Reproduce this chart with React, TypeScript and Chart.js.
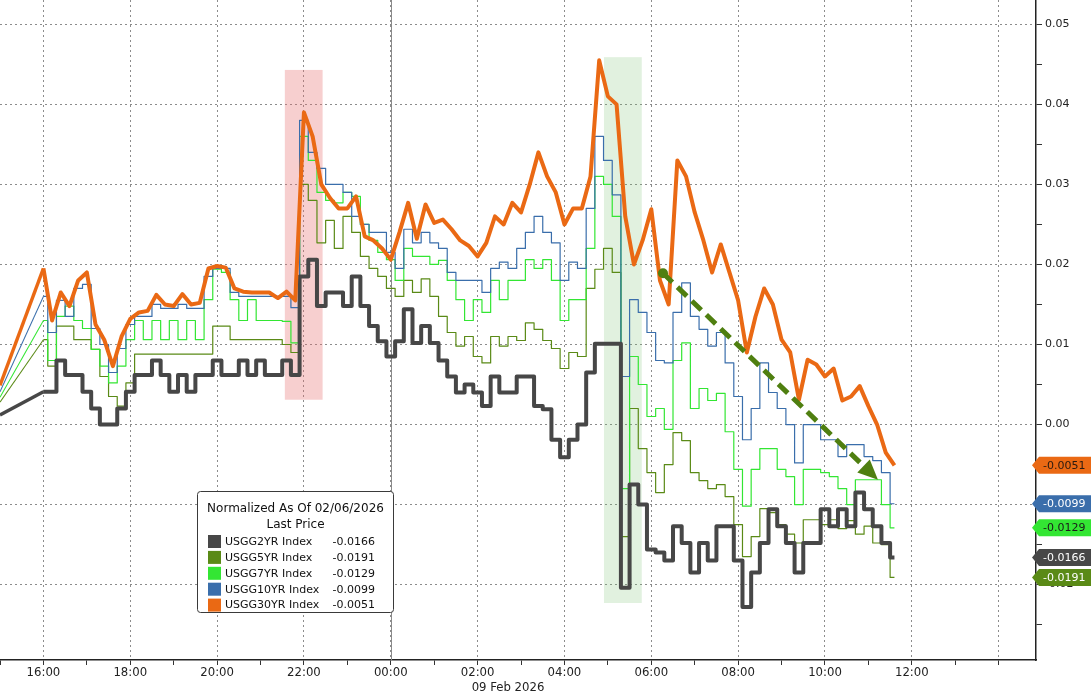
import React, { useEffect, useRef } from "react";
import { Chart, registerables } from "chart.js";

Chart.register(...registerables);

// Hours relative to 00:00 on 09 Feb 2026
const START_HOUR = -9;
const HOURS = [
  -8, -7.8, -7.6, -7.4, -7.2, -7, -6.8, -6.6, -6.4, -6.2,
  -6, -5.8, -5.6, -5.4, -5.2, -5, -4.8, -4.6, -4.4, -4.2,
  -4, -3.8, -3.6, -3.4, -3.2, -3, -2.8, -2.6, -2.4, -2.2,
  -2, -1.8, -1.6, -1.4, -1.2, -1, -0.8, -0.6, -0.4, -0.2,
  0, 0.2, 0.4, 0.6, 0.8, 1, 1.2, 1.4, 1.6, 1.8,
  2, 2.2, 2.4, 2.6, 2.8, 3, 3.2, 3.4, 3.6, 3.8,
  4, 4.2, 4.4, 4.6, 4.8, 5, 5.2, 5.4, 5.6, 5.8,
  6, 6.2, 6.4, 6.6, 6.8, 7, 7.2, 7.4, 7.6, 7.8,
  8, 8.2, 8.4, 8.6, 8.8, 9, 9.2, 9.4, 9.6, 9.8,
  10, 10.2, 10.4, 10.6, 10.8, 11, 11.2, 11.4, 11.6,
];

const USGG2YR = [
  0.0041, 0.0041, 0.008, 0.0062, 0.0062, 0.0041, 0.002, 0.0, 0.0, 0.002,
  0.0041, 0.0062, 0.0062, 0.008, 0.0062, 0.0041, 0.0062, 0.0041, 0.0062, 0.0062,
  0.008, 0.0062, 0.0062, 0.008, 0.0062, 0.008, 0.0062, 0.0062, 0.008, 0.0062,
  0.0185, 0.0206, 0.0148, 0.0165, 0.0165, 0.0148, 0.0185, 0.0148, 0.0123, 0.0104,
  0.0085, 0.0104, 0.0144, 0.0102, 0.0123, 0.0102, 0.008, 0.006, 0.004, 0.005,
  0.004, 0.0023, 0.006, 0.004, 0.004, 0.006, 0.006, 0.0023, 0.0019, -0.0019,
  -0.0041, -0.0019, 0.0, 0.0065, 0.0101, 0.0101, 0.0101, -0.0204, -0.0075, -0.01,
  -0.0156, -0.016, -0.017, -0.0127, -0.0148, -0.0185, -0.0148, -0.017, -0.0127, -0.0127,
  -0.017, -0.0228, -0.0185, -0.0148, -0.0106, -0.0127, -0.0148, -0.0185, -0.0148, -0.0148,
  -0.0106, -0.0127, -0.0106, -0.0127, -0.0085, -0.0106, -0.0127, -0.0148, -0.0166,
];

const USGG5YR = [
  0.0106, 0.0073, 0.0123, 0.0123, 0.0106, 0.0106, 0.0094, 0.006, 0.0035, 0.0023,
  0.0052, 0.0088, 0.0088, 0.0088, 0.0088, 0.0088, 0.0088, 0.0088, 0.0088, 0.0088,
  0.0123, 0.0123, 0.0106, 0.0106, 0.0106, 0.0106, 0.0106, 0.0106, 0.01, 0.009,
  0.03, 0.028, 0.0227, 0.0255, 0.022, 0.026, 0.024, 0.021, 0.0195, 0.0185,
  0.017, 0.016, 0.018, 0.0165, 0.0182, 0.016, 0.0135, 0.0115, 0.0098, 0.011,
  0.0085, 0.0077, 0.011, 0.0098, 0.011, 0.0105, 0.0127, 0.0119, 0.0105, 0.0095,
  0.007, 0.009, 0.0085, 0.017, 0.0194, 0.022, 0.019, -0.014, 0.002, -0.003,
  -0.006, -0.0085, -0.005, -0.001, -0.002, -0.006, -0.007, -0.008, -0.0075, -0.009,
  -0.0125, -0.0165, -0.014, -0.0105, -0.011, -0.0125, -0.0137, -0.0148, -0.0119, -0.0119,
  -0.0125, -0.0119, -0.013, -0.012, -0.0137, -0.0127, -0.0148, -0.015, -0.0191,
];

const USGG7YR = [
  0.013, 0.008, 0.0135, 0.0148, 0.013, 0.012, 0.0094, 0.0073, 0.0052, 0.0073,
  0.0106, 0.013, 0.0106, 0.013, 0.0106, 0.013, 0.0106, 0.013, 0.0106, 0.0156,
  0.0194, 0.019, 0.0156, 0.013, 0.0156, 0.013, 0.013, 0.013, 0.0129, 0.0102,
  0.036, 0.033, 0.029, 0.028, 0.0277, 0.029, 0.0285, 0.025, 0.023, 0.0215,
  0.0206, 0.018, 0.022, 0.021, 0.021, 0.02, 0.0205, 0.018, 0.0156, 0.013,
  0.0156, 0.014, 0.018, 0.0156, 0.018, 0.018, 0.0206, 0.0195, 0.0206, 0.018,
  0.013, 0.0156, 0.0156, 0.022, 0.031, 0.03, 0.026, -0.008, 0.0085, 0.005,
  0.001, 0.002, -0.0006, 0.008, 0.0102, 0.002, 0.0045, 0.003, 0.0039, -0.0009,
  -0.0056, -0.0102, -0.0056, -0.003, -0.003, -0.0056, -0.0065, -0.01, -0.0056, -0.0056,
  -0.006, -0.0065, -0.008, -0.01, -0.0069, -0.0069, -0.0069, -0.01, -0.0129,
];

const USGG10YR = [
  0.016, 0.0115, 0.0155, 0.0135, 0.017, 0.0175, 0.012, 0.01, 0.0065, 0.0095,
  0.0125, 0.0135, 0.0135, 0.015, 0.0145, 0.0145, 0.015, 0.0145, 0.0145, 0.0185,
  0.0195, 0.0195, 0.0165, 0.016, 0.016, 0.016, 0.016, 0.016, 0.016, 0.0146,
  0.038, 0.034, 0.032, 0.03, 0.03, 0.029, 0.026, 0.025, 0.024, 0.024,
  0.0215, 0.0195, 0.0244, 0.0227, 0.024, 0.0227, 0.022, 0.019, 0.018, 0.018,
  0.018, 0.0165, 0.0195, 0.0203, 0.0195, 0.022, 0.024, 0.026, 0.024, 0.0227,
  0.018, 0.0203, 0.0195, 0.027, 0.036, 0.033, 0.0287, 0.006, 0.0156, 0.014,
  0.0115, 0.008, 0.0077, 0.014, 0.0177, 0.0135, 0.0119, 0.0098, 0.0115, 0.0077,
  0.0035, -0.0019, 0.002, 0.0077, 0.004, 0.002, 0.0, -0.0048, 0.0, 0.0,
  -0.0019, -0.0019, -0.004, -0.0025, -0.0025, -0.004, -0.0045, -0.006, -0.0099,
];

const USGG30YR = [
  0.0195, 0.013, 0.0165, 0.0148, 0.018, 0.019, 0.0125, 0.0106, 0.0073, 0.011,
  0.0132, 0.014, 0.0142, 0.0162, 0.015, 0.0148, 0.0163, 0.015, 0.0152, 0.0195,
  0.0198, 0.0196, 0.017, 0.0166, 0.0165, 0.0165, 0.0165, 0.0158, 0.0166, 0.0155,
  0.039, 0.036, 0.03, 0.0283, 0.027, 0.027, 0.0285, 0.0235, 0.023, 0.022,
  0.0206, 0.024, 0.0277, 0.0232, 0.0275, 0.0252, 0.0256, 0.0244, 0.023, 0.0223,
  0.021, 0.0227, 0.026, 0.025, 0.0277, 0.0265, 0.03, 0.034, 0.031, 0.029,
  0.025, 0.027, 0.027, 0.031, 0.0455, 0.041, 0.04, 0.026, 0.02, 0.023,
  0.0269, 0.018, 0.015, 0.033, 0.031, 0.0265, 0.023, 0.019, 0.0225, 0.019,
  0.0155, 0.009, 0.0135, 0.017, 0.015, 0.0106, 0.009, 0.0031, 0.0081, 0.0075,
  0.006, 0.007, 0.003, 0.0035, 0.0048, 0.0023, 0.0, -0.0035, -0.0051,
];

// value of each series at the first (Friday) point
const LEAD_START = [0.0012, 0.0028, 0.0034, 0.0041, 0.0049];

const SERIES_NAMES = ["USGG2YR Index", "USGG5YR Index", "USGG7YR Index", "USGG10YR Index", "USGG30YR Index"];
const SERIES_VALUES = [USGG2YR, USGG5YR, USGG7YR, USGG10YR, USGG30YR];
const SERIES_COLORS = ["#474747", "#5a8a16", "#33e633", "#3a6eab", "#ea6914"];
const LABEL_TEXT_COLORS = ["#ffffff", "#ffffff", "#1a1a1a", "#ffffff", "#2a1a10"];
const LINE_WIDTHS = [4, 1.2, 1.2, 1.2, 4];
const STEP_MODE: any[] = ["middle", "middle", "middle", "middle", false];
const DRAW_ORDER = [1, 4, 3, 2, 0];

const X_MIN = -9;
const X_MAX = 14.86;
const Y_MIN = -0.02942;
const Y_MAX = 0.05304;

const SHADES = [
  { from: -2.44, to: -1.57, top: 0.0443, bottom: 0.0031, color: "rgba(230,110,110,0.33)" },
  { from: 4.91, to: 5.78, top: 0.0459, bottom: -0.0223, color: "rgba(120,190,110,0.22)" },
];
const TREND_ARROW = { x1: 6.27, y1: 0.0189, x2: 11.22, y2: -0.0069 };

const LEGEND_TITLE = "Normalized As Of 02/06/2026";
const LEGEND_SUBTITLE = "Last Price";
const DATE_LABEL = "09 Feb 2026";

const NARROW = "'Liberation Sans Narrow', 'DejaVu Sans Condensed', 'Liberation Sans', sans-serif";
const UI = "'DejaVu Sans', Verdana, sans-serif";

const overlayPlugin = {
  id: "overlay",
  beforeDatasetsDraw(chart: any) {
    const { ctx, chartArea, scales } = chart;
    const x = scales.x, y = scales.y;
    ctx.save();
    for (const r of SHADES) {
      const x1 = x.getPixelForValue(r.from), x2 = x.getPixelForValue(r.to);
      const y1 = y.getPixelForValue(r.top), y2 = y.getPixelForValue(r.bottom);
      ctx.fillStyle = r.color;
      ctx.fillRect(x1, y1, x2 - x1, y2 - y1);
    }
    const mx = Math.round(x.getPixelForValue(0)) + 0.5;
    ctx.strokeStyle = "#8a8a8a";
    ctx.lineWidth = 1;
    ctx.setLineDash([]);
    ctx.beginPath();
    ctx.moveTo(mx, chartArea.top);
    ctx.lineTo(mx, chartArea.bottom);
    ctx.stroke();
    ctx.restore();
  },
  afterDatasetsDraw(chart: any) {
    const { ctx, scales } = chart;
    const x = scales.x, y = scales.y;
    const p1x = x.getPixelForValue(TREND_ARROW.x1), p1y = y.getPixelForValue(TREND_ARROW.y1);
    const p2x = x.getPixelForValue(TREND_ARROW.x2), p2y = y.getPixelForValue(TREND_ARROW.y2);
    const dx = p2x - p1x, dy = p2y - p1y;
    const len = Math.hypot(dx, dy);
    const ux = dx / len, uy = dy / len;
    const headLen = 20, headHalf = 9;
    const col = "#4f7f10";
    ctx.save();
    ctx.strokeStyle = col;
    ctx.fillStyle = col;
    ctx.lineWidth = 5;
    ctx.setLineDash([13, 7]);
    ctx.beginPath();
    ctx.moveTo(p1x, p1y);
    ctx.lineTo(p2x - ux * headLen, p2y - uy * headLen);
    ctx.stroke();
    ctx.setLineDash([]);
    ctx.beginPath();
    ctx.arc(p1x, p1y, 5, 0, Math.PI * 2);
    ctx.fill();
    const bx = p2x - ux * headLen, by = p2y - uy * headLen;
    ctx.beginPath();
    ctx.moveTo(p2x, p2y);
    ctx.lineTo(bx - uy * headHalf, by + ux * headHalf);
    ctx.lineTo(bx + uy * headHalf, by - ux * headHalf);
    ctx.closePath();
    ctx.fill();
    ctx.restore();
  },
  afterDraw(chart: any) {
    const { ctx, chartArea, scales } = chart;
    const y = scales.y;
    ctx.save();
    // last value tags on the right axis
    const right = chart.width;
    SERIES_VALUES.forEach((vals, i) => {
      const v = vals[vals.length - 1];
      const py = y.getPixelForValue(v);
      const tip = chartArea.right - 4;
      const bl = chartArea.right + 3;
      const h = 8.5;
      ctx.fillStyle = SERIES_COLORS[i];
      ctx.beginPath();
      ctx.moveTo(tip, py);
      ctx.lineTo(bl, py - h);
      ctx.lineTo(right, py - h);
      ctx.lineTo(right, py + h);
      ctx.lineTo(bl, py + h);
      ctx.closePath();
      ctx.fill();
      ctx.fillStyle = LABEL_TEXT_COLORS[i];
      ctx.font = `11px ${UI}`;
      ctx.textAlign = "left";
      ctx.textBaseline = "middle";
      ctx.fillText(v.toFixed(4), bl + 4, py + 0.5);
    });

    // legend box
    const lx = 197.5, ly = 491.5, lw = 196, lh = 121;
    ctx.fillStyle = "#ffffff";
    ctx.strokeStyle = "#3a3a3a";
    ctx.lineWidth = 1;
    ctx.beginPath();
    (ctx as any).roundRect ? (ctx as any).roundRect(lx, ly, lw, lh, 3) : ctx.rect(lx, ly, lw, lh);
    ctx.fill();
    ctx.stroke();
    ctx.fillStyle = "#111111";
    ctx.font = `12px ${UI}`;
    ctx.textAlign = "center";
    ctx.textBaseline = "middle";
    ctx.fillText(LEGEND_TITLE, lx + lw / 2, 509);
    ctx.fillText(LEGEND_SUBTITLE, lx + lw / 2, 525);
    ctx.font = `11px ${UI}`;
    SERIES_NAMES.forEach((name, i) => {
      const ry = 541.5 + i * 15.9;
      ctx.fillStyle = SERIES_COLORS[i];
      ctx.fillRect(208, ry - 6.5, 13, 13);
      ctx.fillStyle = "#111111";
      ctx.textAlign = "left";
      ctx.fillText(name, 225, ry + 0.5);
      ctx.textAlign = "right";
      const vals = SERIES_VALUES[i];
      ctx.fillText(vals[vals.length - 1].toFixed(4), 375, ry + 0.5);
    });

    // date under the axis
    ctx.fillStyle = "#222222";
    ctx.font = `13px ${NARROW}`;
    ctx.textAlign = "center";
    ctx.textBaseline = "middle";
    ctx.fillText(DATE_LABEL, 508, 688);
    ctx.restore();
  },
};

function hourLabel(v: number): string {
  const h = Math.round(v);
  if (Math.abs(v - h) > 1e-6) return "";
  if (h % 2 !== 0 || h < -8 || h > 12) return "";
  const hh = ((h % 24) + 24) % 24;
  return String(hh).padStart(2, "0") + ":00";
}

export default function App() {
  const ref = useRef<HTMLCanvasElement | null>(null);

  useEffect(() => {
    if (!ref.current) return;
    const datasets: any[] = [];
    SERIES_VALUES.forEach((vals, i) => {
      datasets.push({
        label: SERIES_NAMES[i] + " lead",
        data: [
          { x: START_HOUR, y: LEAD_START[i] },
          { x: HOURS[0], y: vals[0] },
        ],
        borderColor: SERIES_COLORS[i],
        borderWidth: LINE_WIDTHS[i] * 0.85,
        pointRadius: 0,
        tension: 0,
        order: DRAW_ORDER[i],
      });
      datasets.push({
        label: SERIES_NAMES[i],
        data: HOURS.map((h, k) => ({ x: h, y: vals[k] })),
        borderColor: SERIES_COLORS[i],
        borderWidth: LINE_WIDTHS[i],
        pointRadius: 0,
        tension: 0,
        stepped: STEP_MODE[i],
        borderJoinStyle: "round",
        order: DRAW_ORDER[i],
      });
    });

    const chart = new Chart(ref.current, {
      type: "line",
      data: { datasets },
      plugins: [overlayPlugin],
      options: {
        animation: false,
        responsive: false,
        devicePixelRatio: 1,
        parsing: false as any,
        normalized: true,
        layout: { padding: 0 },
        plugins: {
          legend: { display: false },
          tooltip: { enabled: false },
          title: { display: false },
        },
        scales: {
          x: {
            type: "linear",
            position: "bottom",
            min: X_MIN,
            max: X_MAX,
            afterFit(scale: any) {
              scale.height = 36;
              scale.paddingLeft = 0;
              scale.paddingRight = 0;
            },
            ticks: {
              stepSize: 1,
              includeBounds: false,
              autoSkip: false,
              maxRotation: 0,
              minRotation: 0,
              padding: 0,
              color: "#222222",
              font: { family: NARROW, size: 13 },
              callback: (v: any) => hourLabel(Number(v)),
            },
            grid: {
              color: (ctx: any) =>
                ctx.tick && Math.abs(Math.round(ctx.tick.value) % 2) === 0 ? "#8c8c8c" : "rgba(0,0,0,0)",
              lineWidth: 1,
              tickColor: "#333333",
              tickLength: 5,
              drawTicks: true,
            },
            border: {
              display: true,
              color: "#222222",
              width: 1.5,
              dash: (ctx: any) => (ctx.type === "tick" ? [2, 3] : []),
            },
          },
          y: {
            type: "linear",
            position: "right",
            min: Y_MIN,
            max: Y_MAX,
            afterFit(scale: any) {
              scale.width = 55;
              scale.paddingTop = 0;
              scale.paddingBottom = 0;
            },
            ticks: {
              stepSize: 0.005,
              includeBounds: false,
              autoSkip: false,
              padding: 3,
              color: "#222222",
              font: { family: UI, size: 11 },
              callback: (v: any) => {
                const n = Math.round(Number(v) * 200);
                if (n % 2 !== 0) return "";
                const val = n / 200;
                return val === 0 ? "0.00" : val.toFixed(2);
              },
            },
            grid: {
              color: (ctx: any) =>
                ctx.tick && Math.round(ctx.tick.value * 200) % 2 === 0 ? "#8c8c8c" : "rgba(0,0,0,0)",
              lineWidth: 1,
              tickColor: "#333333",
              tickLength: 6,
              drawTicks: true,
            },
            border: {
              display: true,
              color: "#222222",
              width: 1.5,
              dash: (ctx: any) => (ctx.type === "tick" ? [2, 3] : []),
            },
          },
        },
      } as any,
    });
    return () => chart.destroy();
  }, []);

  return (
    <div style={{ position: "absolute", left: 0, top: 0, width: 1091, height: 696, background: "#ffffff" }}>
      <canvas ref={ref} width={1091} height={696} style={{ display: "block", width: 1091, height: 696 }} />
    </div>
  );
}
